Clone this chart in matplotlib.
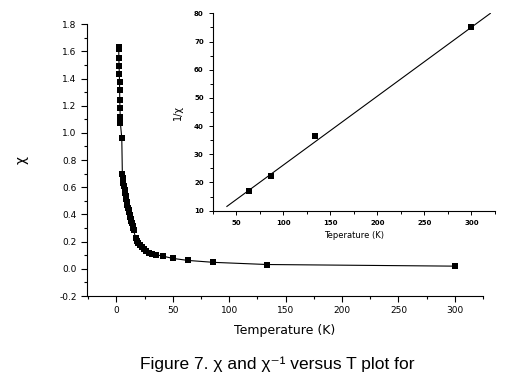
import matplotlib
matplotlib.use("Agg")
import matplotlib.pyplot as plt
from matplotlib.ticker import MultipleLocator

# chi vs T (main plot)
temp = [2.0, 2.1, 2.2, 2.4, 2.6, 2.8, 2.9, 3.0, 3.2, 3.4, 3.6, 4.8,
        5.3, 5.8, 6.3, 6.8, 7.3, 7.8, 8.3, 8.8, 9.3, 9.8, 10.3, 10.8,
        11.3, 11.8, 12.3, 12.8, 13.3, 13.8, 14.3, 14.8, 15.3,
        17.1, 18.0, 19.3, 20.6, 22.3, 24.2, 26.5, 29.0, 31.8, 35.0,
        41.0, 50.0, 63.5, 86.0, 133.5, 300.0]
chi = [1.633, 1.615, 1.548, 1.493, 1.432, 1.374, 1.315, 1.241, 1.180, 1.119, 1.070, 0.960,
       0.697, 0.665, 0.635, 0.608, 0.582, 0.558, 0.535, 0.512, 0.490, 0.470, 0.450, 0.432,
       0.415, 0.398, 0.382, 0.366, 0.350, 0.335, 0.318, 0.300, 0.285,
       0.224, 0.205, 0.187, 0.175, 0.160, 0.145, 0.132, 0.120, 0.112, 0.104,
       0.094, 0.077, 0.062, 0.048, 0.032, 0.020]

# 1/chi vs T (inset)
inv_temp = [63, 87, 134, 300]
inv_chi = [16.8, 22.3, 36.5, 75.0]
fit_temp = [40, 320]
fit_inv = [11.5, 80.0]

plt.rcParams['font.family'] = ['DejaVu Sans']

fig = plt.figure(figsize=(5.09, 3.83), dpi=100)

ax = fig.add_axes([0.171, 0.227, 0.778, 0.710])
ax.plot(temp, chi, color='black', lw=0.8, marker='s', ms=4.5,
        markeredgewidth=0)
ax.set_xlim(-26, 325)
ax.set_ylim(-0.2, 1.8)
ax.xaxis.set_major_locator(MultipleLocator(50))
ax.xaxis.set_minor_locator(MultipleLocator(25))
ax.yaxis.set_major_locator(MultipleLocator(0.2))
ax.yaxis.set_minor_locator(MultipleLocator(0.1))
ax.yaxis.set_major_formatter(plt.FuncFormatter(lambda v, p: f"{v:.1f}"))
for s in ['top', 'right']:
    ax.spines[s].set_visible(False)
ax.tick_params(which='both', direction='out', labelsize=6.5, width=0.8)
ax.tick_params(which='major', length=4)
ax.tick_params(which='minor', length=2.5)
ax.set_xlabel('Temperature (K)', fontsize=9, labelpad=6)
ax.set_ylabel('χ', fontsize=10, labelpad=22)

ins = fig.add_axes([0.418, 0.450, 0.5545, 0.515])
ins.plot(fit_temp, fit_inv, color='black', lw=0.8)
ins.plot(inv_temp, inv_chi, 's', color='black', ms=4.2, markeredgewidth=0)
ins.set_xlim(25, 325)
ins.set_ylim(10, 80)
ins.xaxis.set_major_locator(MultipleLocator(50))
ins.xaxis.set_minor_locator(MultipleLocator(25))
ins.yaxis.set_major_locator(MultipleLocator(10))
ins.yaxis.set_minor_locator(MultipleLocator(5))
for s in ['top', 'right']:
    ins.spines[s].set_visible(False)
ins.tick_params(which='both', direction='out', labelsize=5, width=0.7)
ins.tick_params(which='major', length=3)
ins.tick_params(which='minor', length=2)
for lbl in ins.get_xticklabels() + ins.get_yticklabels():
    lbl.set_fontweight('bold')
ins.set_xlabel('Teperature (K)', fontsize=6, labelpad=4)
ins.set_ylabel('1/χ', fontsize=7, labelpad=8)

fig.text(0.545, 0.048, 'Figure 7. χ and χ⁻¹ versus T plot for',
         ha='center', va='center', fontsize=12.5,
         family=['Liberation Sans', 'DejaVu Sans'])

fig.savefig('out.png', dpi=100)
